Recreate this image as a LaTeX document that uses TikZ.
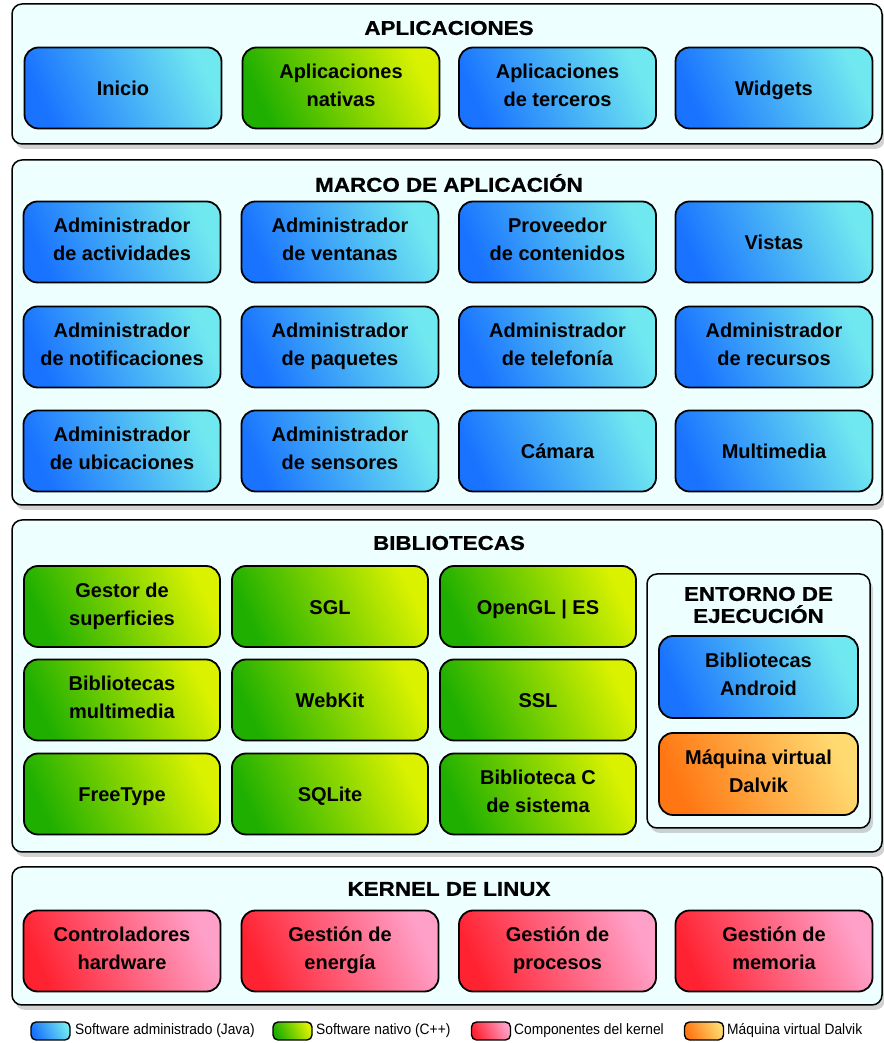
\documentclass[tikz,border=0pt]{standalone}
\usepackage{fontspec}
\setmainfont{Liberation Sans}
\newfontfamily\cajafont{Liberation Sans}
\newfontfamily\titulofont{Liberation Sans}[FakeStretch=1.12, FakeBold=0.8]
\newfontfamily\leyendafont{Liberation Sans}[FakeStretch=0.92]
\usetikzlibrary{shadows}

\definecolor{fondo}{RGB}{238,255,255}
\definecolor{javaA}{RGB}{25,115,255}
\definecolor{javaB}{RGB}{112,232,240}
\definecolor{nativoA}{RGB}{30,175,0}
\definecolor{nativoB}{RGB}{218,242,0}
\definecolor{kernelA}{RGB}{255,35,50}
\definecolor{kernelB}{RGB}{255,160,200}
\definecolor{dalvikA}{RGB}{255,118,18}
\definecolor{dalvikB}{RGB}{255,218,112}

\tikzset{
	capa/.style={draw=black, line width=1.5pt, rounded corners=10pt, fill=fondo, minimum width=870pt, inner sep=0pt,
		drop shadow={shadow xshift=3pt, shadow yshift=-5pt, fill=black!35}},
	titulo/.style={font=\titulofont\bfseries\fontsize{20}{22}\selectfont, align=center, inner sep=0pt},
	caja/.style={draw=black, line width=1.8pt, rounded corners=14pt, minimum width=197pt, minimum height=81pt,
		inner sep=0pt, align=center, font=\cajafont\bfseries\fontsize{20}{28}\selectfont,
		execute at begin node={\rule[-5pt]{0pt}{26pt}}, execute at end node={\rule[-5pt]{0pt}{26pt}}},
	java/.style={caja, left color=javaA, right color=javaB, shading angle=115},
	nativo/.style={caja, left color=nativoA, right color=nativoB, shading angle=115},
	kernel/.style={caja, left color=kernelA, right color=kernelB, shading angle=115},
	dalvik/.style={caja, left color=dalvikA, right color=dalvikB, shading angle=115},
	muestra/.style={draw=black, line width=1.4pt, rounded corners=5pt, minimum width=39pt, minimum height=18pt, inner sep=0pt},
	leyenda/.style={anchor=west, inner sep=0pt, font=\leyendafont\fontsize{15}{17}\selectfont}
}

\begin{document}
\begin{tikzpicture}[x=1pt, y=1pt]
	\useasboundingbox (0,0) rectangle (883,1043);

	% capas
	\node[capa, minimum height=140pt] (pApl) at (447,969) {};
	\node[capa, minimum height=345pt] (pMarco) at (447,710.5) {};
	\node[capa, minimum height=332pt] (pBib) at (447,357) {};
	\node[capa, minimum height=138pt] (pKer) at (447,107) {};
	\node[capa, minimum width=223pt, minimum height=254pt] (pEnt) at (758.5,342) {};

	\node[titulo] (tApl) at (449,1015) {APLICACIONES};
	\node[titulo] (tMarco) at (449,860) {MARCO DE APLICACIÓN};
	\node[titulo] (tBib) at (449,500) {BIBLIOTECAS};
	\node[titulo] (tKer) at (449,154) {KERNEL DE LINUX};
	\node[titulo] (tEnt) at (758.5,438) {ENTORNO DE\\EJECUCIÓN};

	% aplicaciones
	\node[java] (inicio) at (123,955) {Inicio};
	\node[nativo] (nativas) at (341,955) {Aplicaciones\\nativas};
	\node[java] (terceros) at (557.5,955) {Aplicaciones\\de terceros};
	\node[java] (widgets) at (774,955) {Widgets};

	% marco de aplicacion
	\node[java] (actividades) at (122,801) {Administrador\\de actividades};
	\node[java] (ventanas) at (340,801) {Administrador\\de ventanas};
	\node[java] (contenidos) at (557.5,801) {Proveedor\\de contenidos};
	\node[java] (vistas) at (774,801) {Vistas};
	\node[java] (notificaciones) at (122,696) {Administrador\\de notificaciones};
	\node[java] (paquetes) at (340,696) {Administrador\\de paquetes};
	\node[java] (telefonia) at (557.5,696) {Administrador\\de telefonía};
	\node[java] (recursos) at (774,696) {Administrador\\de recursos};
	\node[java] (ubicaciones) at (122,592) {Administrador\\de ubicaciones};
	\node[java] (sensores) at (340,592) {Administrador\\de sensores};
	\node[java] (camara) at (557.5,592) {Cámara};
	\node[java] (multimedia) at (774,592) {Multimedia};

	% bibliotecas
	\node[nativo, minimum width=196pt] (superficies) at (122,436.5) {Gestor de\\superficies};
	\node[nativo, minimum width=196pt] (sgl) at (330,436.5) {SGL};
	\node[nativo, minimum width=196pt] (opengl) at (538,436.5) {OpenGL | ES};
	\node[nativo, minimum width=196pt] (bibmulti) at (122,343) {Bibliotecas\\multimedia};
	\node[nativo, minimum width=196pt] (webkit) at (330,343) {WebKit};
	\node[nativo, minimum width=196pt] (ssl) at (538,343) {SSL};
	\node[nativo, minimum width=196pt] (freetype) at (122,249) {FreeType};
	\node[nativo, minimum width=196pt] (sqlite) at (330,249) {SQLite};
	\node[nativo, minimum width=196pt] (libc) at (538,249) {Biblioteca C\\de sistema};

	% entorno de ejecucion
	\node[java, minimum width=199pt, minimum height=82pt] (android) at (758.5,366) {Bibliotecas\\Android};
	\node[dalvik, minimum width=199pt, minimum height=82pt] (dalvik) at (758.5,269) {Máquina virtual\\Dalvik};

	% kernel
	\node[kernel] (hardware) at (122,92) {Controladores\\hardware};
	\node[kernel] (energia) at (340,92) {Gestión de\\energía};
	\node[kernel] (procesos) at (557.5,92) {Gestión de\\procesos};
	\node[kernel] (memoria) at (774,92) {Gestión de\\memoria};

	% leyenda
	\node[muestra, left color=javaA, right color=javaB, shading angle=115] (mJava) at (50.5,12) {};
	\node[leyenda] (lJava) at (75,12) {Software administrado (Java)};
	\node[muestra, left color=nativoA, right color=nativoB, shading angle=115] (mNativo) at (292.5,12) {};
	\node[leyenda] (lNativo) at (316,12) {Software nativo (C++)};
	\node[muestra, left color=kernelA, right color=kernelB, shading angle=115] (mKernel) at (491,12) {};
	\node[leyenda] (lKernel) at (514,12) {Componentes del kernel};
	\node[muestra, left color=dalvikA, right color=dalvikB, shading angle=115] (mDalvik) at (704,12) {};
	\node[leyenda] (lDalvik) at (727,12) {Máquina virtual Dalvik};
\end{tikzpicture}
\end{document}
